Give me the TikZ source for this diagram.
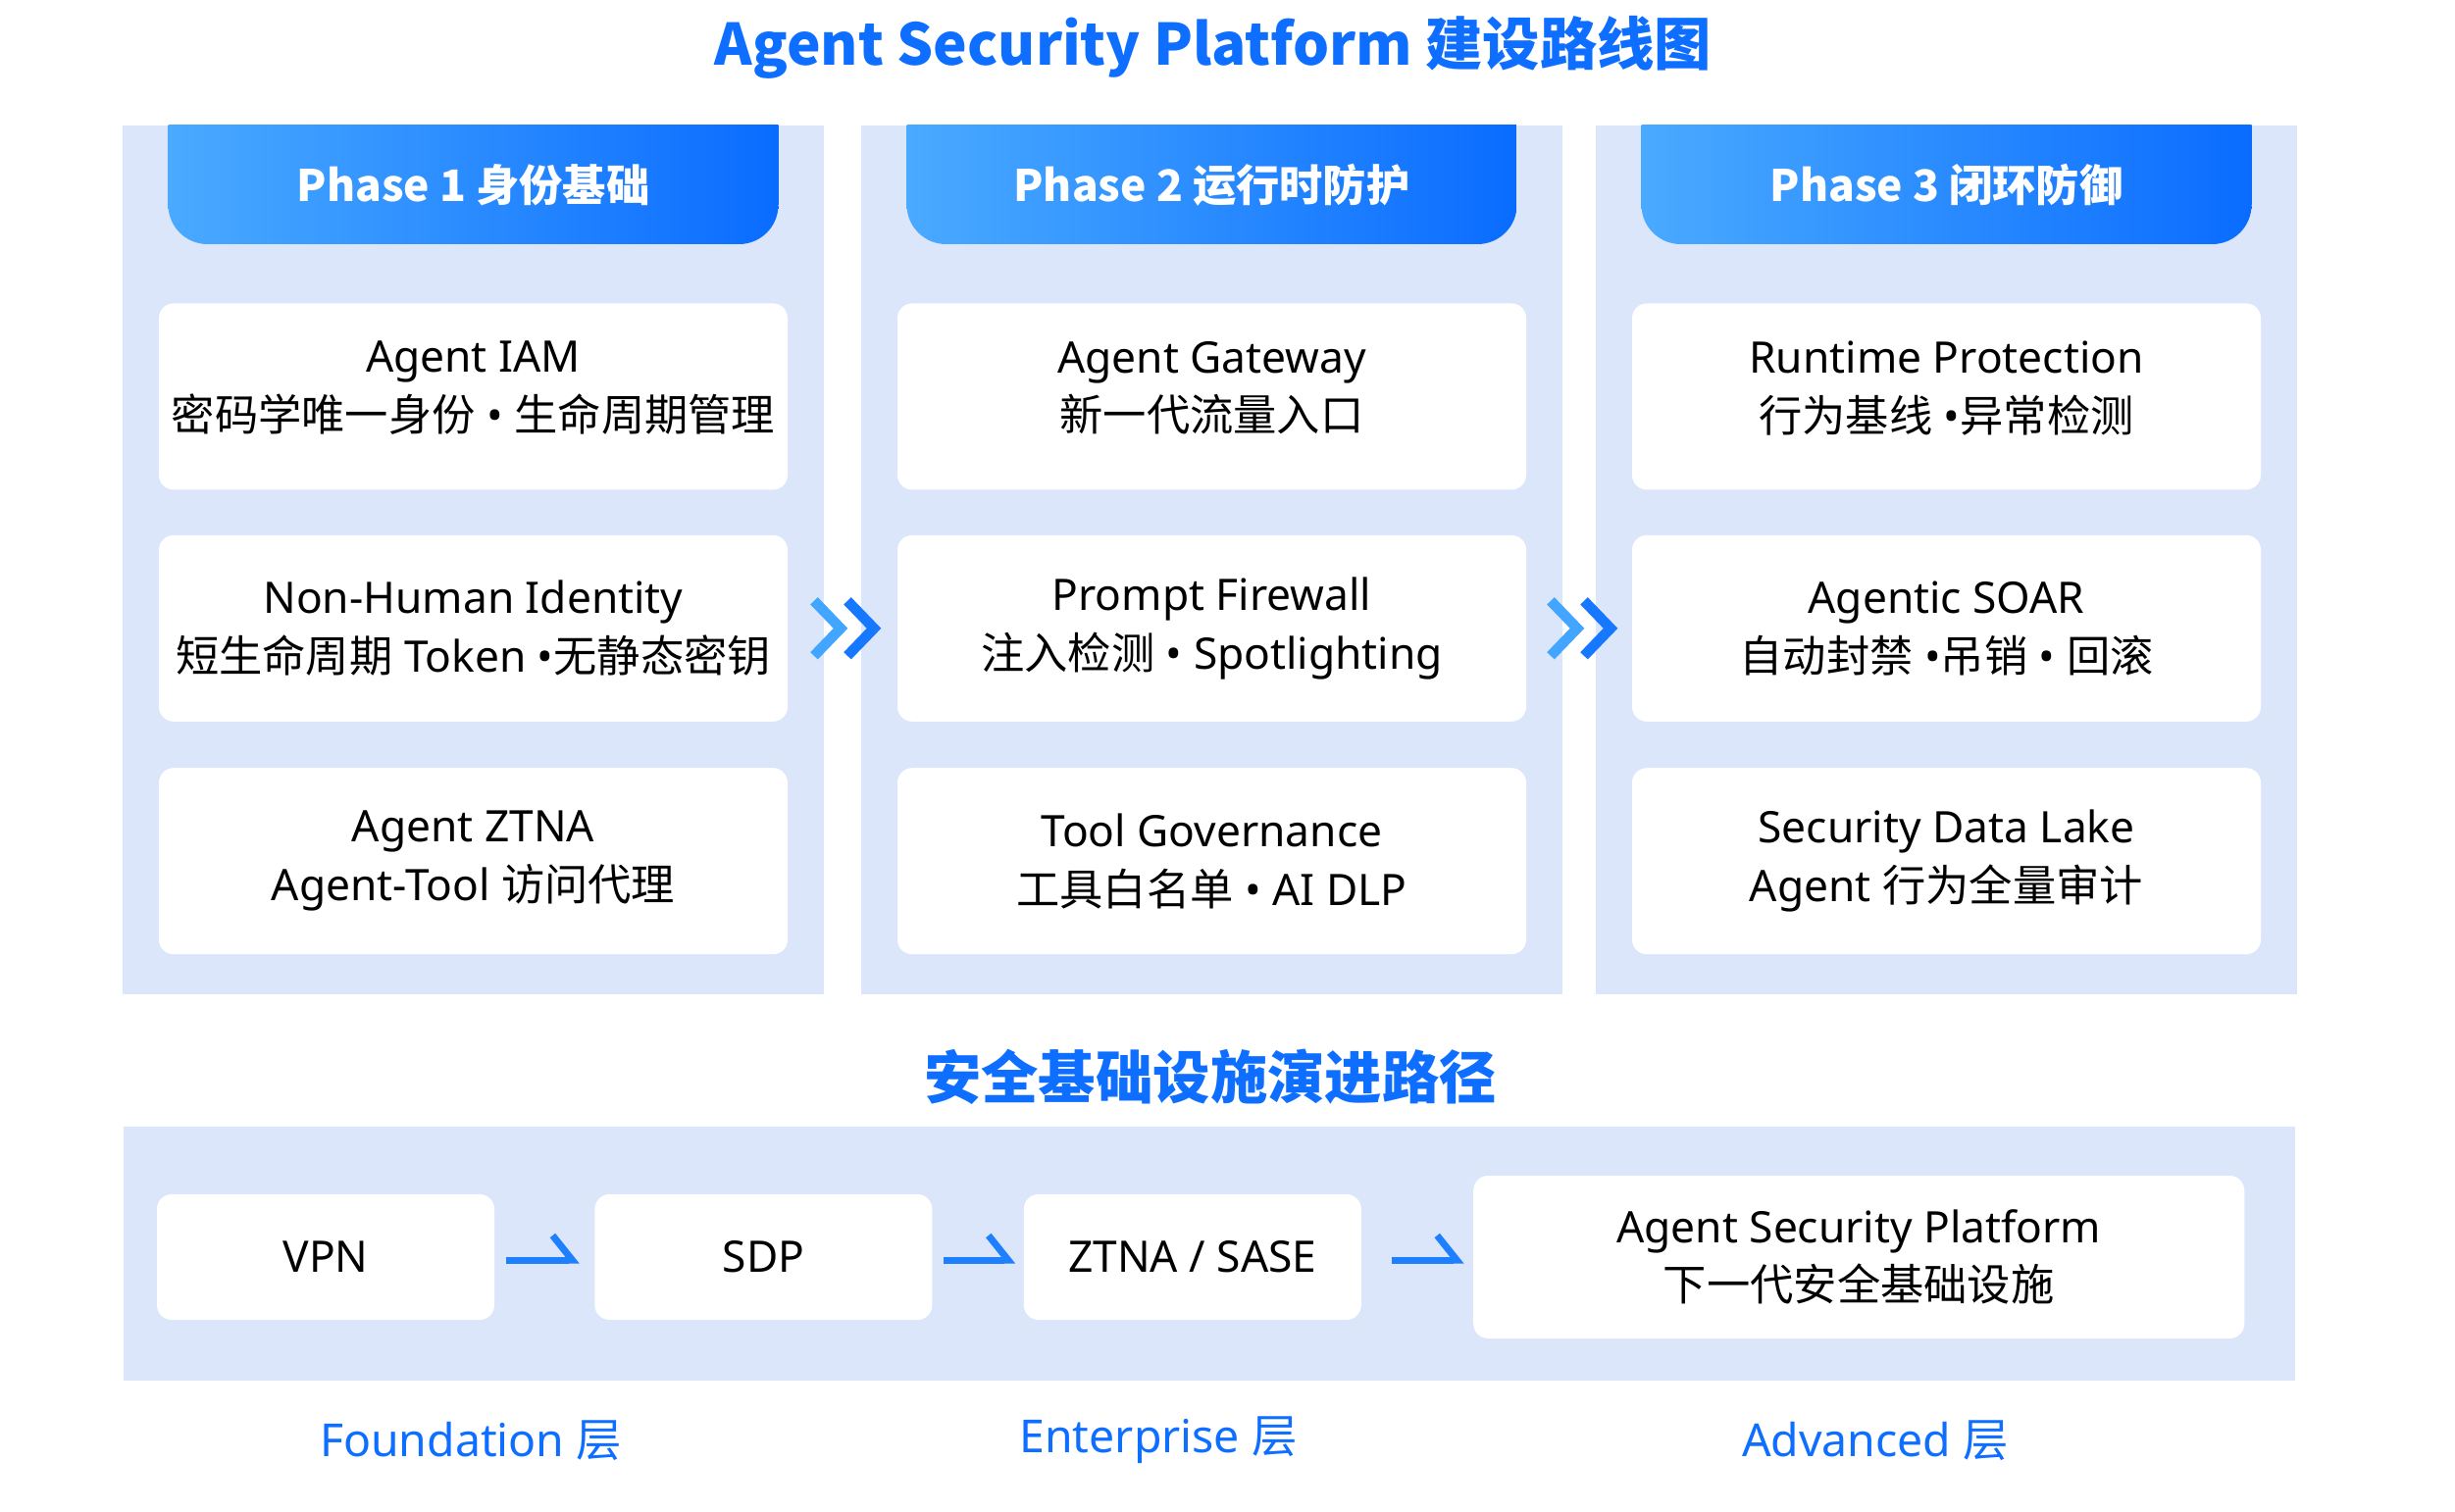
\documentclass[tikz,border=0pt]{standalone}
\usepackage{fontspec}
\setmainfont{Noto Sans}
\newfontfamily\cjkfont{Noto Sans CJK SC}
\newcommand{\zh}[1]{{\cjkfont #1}}
\usepackage{tikz}
\usetikzlibrary{positioning,arrows.meta,calc}
\definecolor{panelblue}{RGB}{219,230,251}
\definecolor{titleblue}{RGB}{14,110,255}
\definecolor{hdrL}{RGB}{74,170,255}
\definecolor{hdrR}{RGB}{10,108,255}
\definecolor{chevL}{RGB}{66,165,255}
\definecolor{chevD}{RGB}{22,120,255}
\definecolor{flowblue}{RGB}{30,128,255}
\tikzset{
  panel/.style={fill=panelblue, minimum width=7.15cm, minimum height=8.86cm, inner sep=0pt},
  phasebox/.style={minimum width=6.22cm, minimum height=1.21cm, inner sep=0pt,
              text=white, font=\cjkfont\bfseries\fontsize{12.6}{16}\selectfont,
              path picture={\shade[left color=hdrL, right color=hdrR, rounded corners=4mm]
                ([yshift=1cm]path picture bounding box.north west) rectangle
                (path picture bounding box.south east);}},
  card/.style={fill=white, rounded corners=1.5mm, minimum width=6.41cm, minimum height=1.9cm,
              inner sep=0pt, align=center, font=\fontsize{12.6}{17}\selectfont},
  lifted/.style={execute at end node={\rule[-2.1mm]{0pt}{1pt}}},
  stepbox/.style={card, minimum width=3.44cm, minimum height=1.28cm},
  heading/.style={text=titleblue, font=\cjkfont\bfseries\fontsize{16.6}{20}\selectfont},
  layer/.style={text=titleblue, font=\fontsize{13.2}{16}\selectfont},
  chev/.style={line width=1.05mm, miter limit=10},
  flow/.style={-{Straight Barb[harpoon, length=2mm, width=5mm]}, line width=0.7mm, draw=flowblue},
}
\begin{document}
\begin{tikzpicture}
  \useasboundingbox (0,0) rectangle (25.03,-15.42);

  \node[heading] (title) at (12.37,-0.48) {Agent Security Platform 建设路线图};

  % three phases
  \node[panel] (pan1) at (4.825,-5.71) {};
  \node[panel] (pan2) at (12.355,-5.71) {};
  \node[panel] (pan3) at (19.845,-5.71) {};

  \node[phasebox, anchor=north] (ph1) at (pan1.north) {Phase 1 身份基础};
  \node[phasebox, anchor=north] (ph2) at (pan2.north) {Phase 2 运行时防护};
  \node[phasebox, anchor=north] (ph3) at (pan3.north) {Phase 3 闭环防御};

  \node[card, lifted, below=0.59cm of ph1]  (iam)  {Agent IAM\\\zh{密码学唯一身份} • \zh{生命周期管理}};
  \node[card, below=0.45cm of iam]  (nhi)  {Non-Human Identity\\\zh{短生命周期} Token •\zh{无静态密钥}};
  \node[card, below=0.46cm of nhi]  (ztna) {Agent ZTNA\\Agent-Tool \zh{访问代理}};

  \node[card, lifted, below=0.59cm of ph2]  (gw)   {Agent Gateway\\\zh{新一代流量入口}};
  \node[card, below=0.45cm of gw]   (pfw)  {Prompt Firewall\\\zh{注入检测} • Spotlighting};
  \node[card, below=0.46cm of pfw]  (tool) {Tool Governance\\\zh{工具白名单} • AI DLP};

  \node[card, lifted, below=0.59cm of ph3]  (rtp)  {Runtime Protection\\\zh{行为基线} •\zh{异常检测}};
  \node[card, below=0.45cm of rtp]  (soar) {Agentic SOAR\\\zh{自动封禁} •\zh{吊销} • \zh{回滚}};
  \node[card, below=0.46cm of soar] (lake) {Security Data Lake\\Agent \zh{行为全量审计}};

  % chevrons between phases
  \coordinate (g1) at ($(nhi.east)!0.5!(pfw.west)$);
  \coordinate (g2) at ($(pfw.east)!0.5!(soar.west)$);
  \foreach \g in {g1,g2}{
    \draw[chev, chevL] ([xshift=-2.9mm,yshift=2.8mm]\g) -- ++(2.7mm,-2.8mm) -- ++(-2.7mm,-2.8mm);
    \draw[chev, chevD] ([xshift=0.5mm,yshift=2.8mm]\g) -- ++(2.7mm,-2.8mm) -- ++(-2.7mm,-2.8mm);
  }

  % infrastructure path
  \node[heading] (sub) at (12.34,-10.98) {安全基础设施演进路径};
  \node[fill=panelblue, minimum width=22.14cm, minimum height=2.59cm, inner sep=0pt] (base) at (12.33,-12.785) {};

  \node[stepbox] (vpn) at (3.32,-12.82) {VPN};
  \node[stepbox, right=1.01cm of vpn]  (sdp)  {SDP};
  \node[stepbox, right=0.92cm of sdp]  (sase) {ZTNA / SASE};
  \node[stepbox, right=1.13cm of sase, minimum width=7.86cm, minimum height=1.66cm]
       (asp) {Agent Security Platform\\\zh{下一代安全基础设施}};

  \draw[flow, shorten <=1.1mm, shorten >=1.5mm] ([yshift=-0.3mm]vpn.east) -- ([yshift=-0.3mm]sdp.west);
  \draw[flow, shorten <=1.1mm, shorten >=0.8mm] ([yshift=-0.3mm]sdp.east) -- ([yshift=-0.3mm]sase.west);
  \draw[flow, shorten <=3mm, shorten >=0.9mm] ([yshift=-0.3mm]sase.east) -- ([yshift=-0.3mm]asp.west);

  \node[layer] (l1) at (4.80,-14.69)  {Foundation \zh{层}};
  \node[layer] (l2) at (11.81,-14.69) {Enterprise \zh{层}};
  \node[layer] (l3) at (19.12,-14.69) {Advanced \zh{层}};
\end{tikzpicture}
\end{document}
